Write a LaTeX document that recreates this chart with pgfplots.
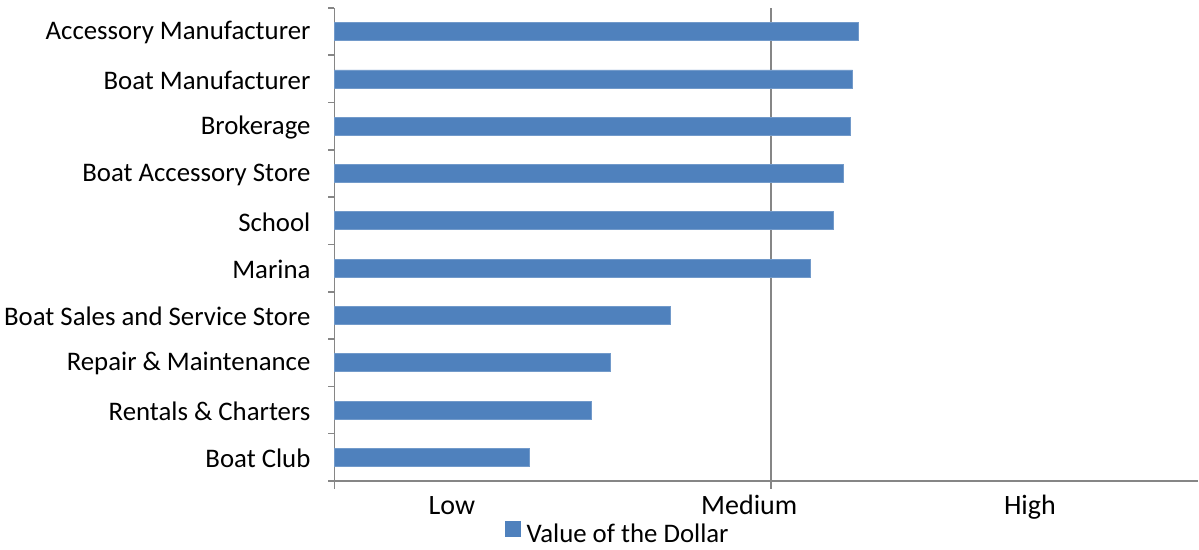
\documentclass[border=0pt]{standalone}
\usepackage{pgfplots}
\pgfplotsset{compat=1.18}
\usepackage{fontspec}
\setmainfont{Carlito}
\definecolor{barblue}{HTML}{4F81BD}
\definecolor{axgray}{HTML}{868686}
\begin{document}
\begin{tikzpicture}
\path[use as bounding box] (-167.25pt,-34.5pt) rectangle (432.25pt,240.5pt);
\begin{axis}[
  at={(0,0)}, anchor=south west,
  scale only axis, width=431.75pt, height=236.5pt,
  xbar, bar width=9pt,
  xmin=0, xmax=1.978,
  ymin=-0.5, ymax=9.5,
  axis x line*=bottom, axis y line*=left,
  axis line style={axgray, line width=0.8pt},
  xtick={0}, xticklabels={},
  extra x ticks={1}, extra x tick labels={},
  extra x tick style={grid=major, major grid style={axgray, line width=0.8pt}},
  x tick style={axgray, line width=0.8pt},
  major tick length=4pt,
  ytick={0,...,9},
  yticklabels={Boat Club, Rentals \& Charters, Repair \& Maintenance, Boat Sales and Service Store, Marina, School, Boat Accessory Store, Brokerage, Boat Manufacturer, Accessory Manufacturer},
  y tick style={draw=none},
  minor ytick={-0.5,0.5,...,9.5},
  minor y tick style={draw=axgray, line width=0.8pt},
  minor tick length=3pt,
  tick align=outside,
  yticklabel style={font=\fontsize{13.4pt}{15pt}\selectfont, text=black, xshift=-4.5pt, yshift=-0.5pt},
  clip=false,
  legend style={at={(0.328,-0.112)}, anchor=center, draw=none, fill=none,
    font=\fontsize{13.4pt}{15pt}\selectfont, inner sep=0pt,
    nodes={inner sep=1pt}},
  legend image code/.code={\fill[barblue] (0pt,-0.8pt) rectangle (7.5pt,6.7pt); \path (9.5pt,0pt);},
]
\addplot[fill=barblue, draw=barblue!80!white] coordinates {
(0.446,0) (0.588,1) (0.631,2) (0.769,3) (1.089,4) (1.142,5) (1.166,6) (1.181,7) (1.187,8) (1.200,9)
};
\addlegendentry{Value of the Dollar}
\node[anchor=base, font=\fontsize{14pt}{16pt}\selectfont] at (axis cs:0.269,-0.5) [yshift=-17pt] {Low};
\node[anchor=base, font=\fontsize{14pt}{16pt}\selectfont] at (axis cs:0.950,-0.5) [yshift=-17pt] {Medium};
\node[anchor=base, font=\fontsize{14pt}{16pt}\selectfont] at (axis cs:1.593,-0.5) [yshift=-17pt] {High};
\end{axis}
\end{tikzpicture}
\end{document}
